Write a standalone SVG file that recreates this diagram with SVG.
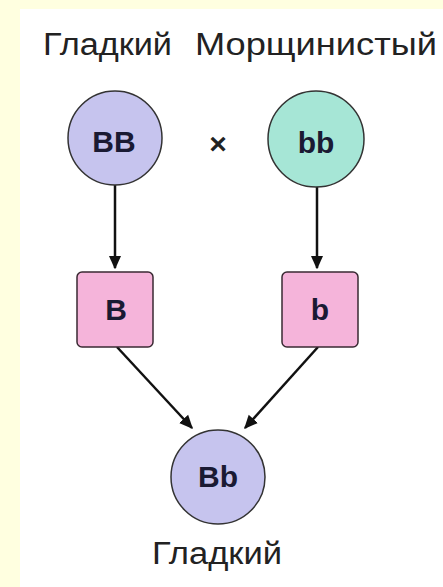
<svg xmlns="http://www.w3.org/2000/svg" width="443" height="587" viewBox="0 0 443 587">
<defs>
<style>
.lbl{font-family:"Liberation Sans",Arial,sans-serif;font-size:31px;fill:#222;}
.gt{font-family:"Liberation Sans",Arial,sans-serif;font-weight:bold;fill:#1a1a33;text-anchor:middle;}
.circ{stroke:#333;stroke-width:1.5;}
.box{stroke:#3a2a33;stroke-width:1.5;fill:#f5b4da;}
.conn{stroke:#111;stroke-width:2.5;fill:none;marker-end:url(#ah);}
</style>
<marker id="ah" viewBox="0 0 10 10" refX="9" refY="5" markerWidth="5.5" markerHeight="5.5" orient="auto" markerUnits="strokeWidth">
<path d="M0,0.5 L10,5 L0,9.5 z" fill="#111"/>
</marker>
</defs>
<rect x="0" y="0" width="443" height="587" fill="#ffffe0"/>
<rect x="20" y="9" width="423" height="578" fill="#ffffff"/>
<text class="lbl" x="43" y="55" textLength="129" lengthAdjust="spacingAndGlyphs">Гладкий</text>
<text class="lbl" x="195" y="55" textLength="242" lengthAdjust="spacingAndGlyphs">Морщинистый</text>
<g id="connectors">
<line class="conn" x1="115" y1="184" x2="115" y2="268"/>
<line class="conn" x1="317" y1="186" x2="317" y2="268"/>
<line class="conn" x1="117" y1="347" x2="192" y2="428"/>
<line class="conn" x1="318" y1="347" x2="245" y2="428"/>
</g>
<g id="BB">
<circle class="circ" cx="115" cy="138" r="47" fill="#c6c4ee"/>
<text class="gt" x="114" y="152" font-size="30">BB</text>
</g>
<text x="218" y="154" font-family="Liberation Sans,Arial,sans-serif" font-weight="bold" font-size="30" text-anchor="middle" fill="#222">×</text>
<g id="bb">
<circle class="circ" cx="316" cy="139" r="48" fill="#a6e6d6"/>
<text class="gt" x="316" y="153" font-size="30">bb</text>
</g>
<g id="B">
<rect class="box" x="77" y="272" width="76" height="75" rx="5"/>
<text class="gt" x="116" y="320" font-size="30" font-weight="600">B</text>
</g>
<g id="b">
<rect class="box" x="282" y="272" width="76" height="75" rx="5"/>
<text class="gt" x="320" y="320" font-size="30" font-weight="600">b</text>
</g>
<g id="Bb">
<circle class="circ" cx="218" cy="477" r="47" fill="#c6c4ee"/>
<text class="gt" x="218" y="487" font-size="30">Bb</text>
</g>
<text class="lbl" x="152" y="564" textLength="130" lengthAdjust="spacingAndGlyphs">Гладкий</text>
</svg>
